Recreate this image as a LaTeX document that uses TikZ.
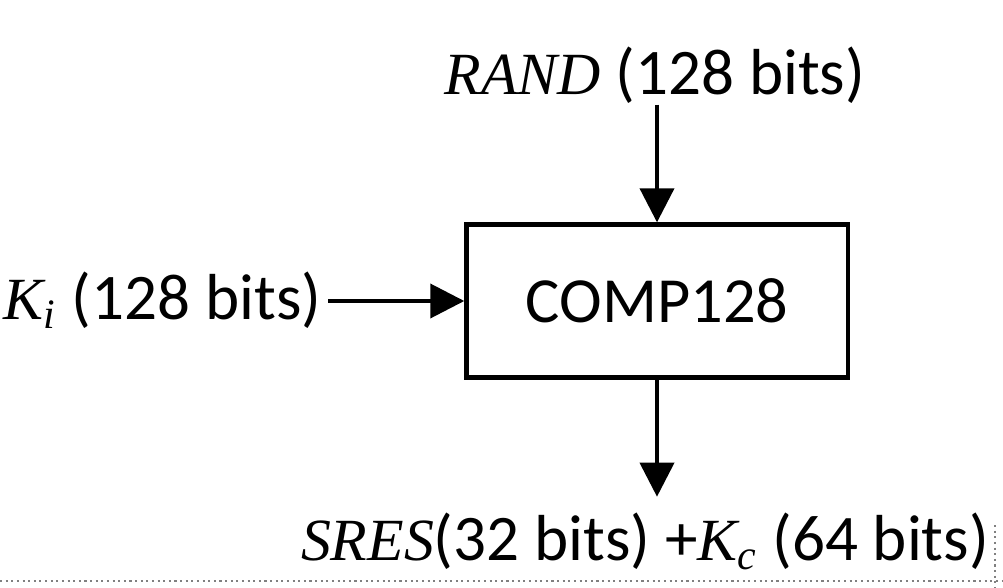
\documentclass[tikz,border=0pt]{standalone}
\usepackage{fontspec}
\setmainfont{Carlito}
\newfontfamily\varit{Liberation Serif}[Scale=0.92]
\newcommand\vname[1]{{\varit\itshape #1}}
\usetikzlibrary{arrows.meta,positioning}
\tikzset{
  lbl/.style={inner sep=0pt,font=\fontsize{18.5}{22}\selectfont},
  arr/.style={line width=1.1pt,-{Triangle[length=0.34cm,width=0.34cm]}}
}
\begin{document}
\begin{tikzpicture}[x=0.01cm,y=-0.01cm]
    \useasboundingbox (0,0) rectangle (1003,588);
    \node[draw,line width=1.2pt,minimum width=3.81cm,minimum height=1.53cm,font=\fontsize{18.3}{22}\selectfont] (comp) at (657,301) {COMP128};
    \node[lbl,anchor=base] (rand) at (655,95) {\vname{RAND} (128 bits)};
    \node[lbl,anchor=east] (ki) at (322,300) {\vname{K}\textsubscript{\vname{i}} (128 bits)};
    \node[lbl,anchor=base] (out) at (645,560) {\vname{SRES}(32 bits) +\vname{K}\textsubscript{\vname{c}} (64 bits)};
    \draw[arr] (rand.south -| comp.north) -- (comp.north);
    \draw[arr] (ki.east |- comp.west) ++(6,0) -- (comp.west);
    \draw[arr] (comp.south) -- ([yshift=0.15cm]comp.south |- out.north);
    \draw[densely dotted,gray,line width=0.6pt] (0,581) -- (1003,581);
    \draw[densely dotted,gray,line width=0.6pt] (995,525) -- (995,588);
\end{tikzpicture}
\end{document}
